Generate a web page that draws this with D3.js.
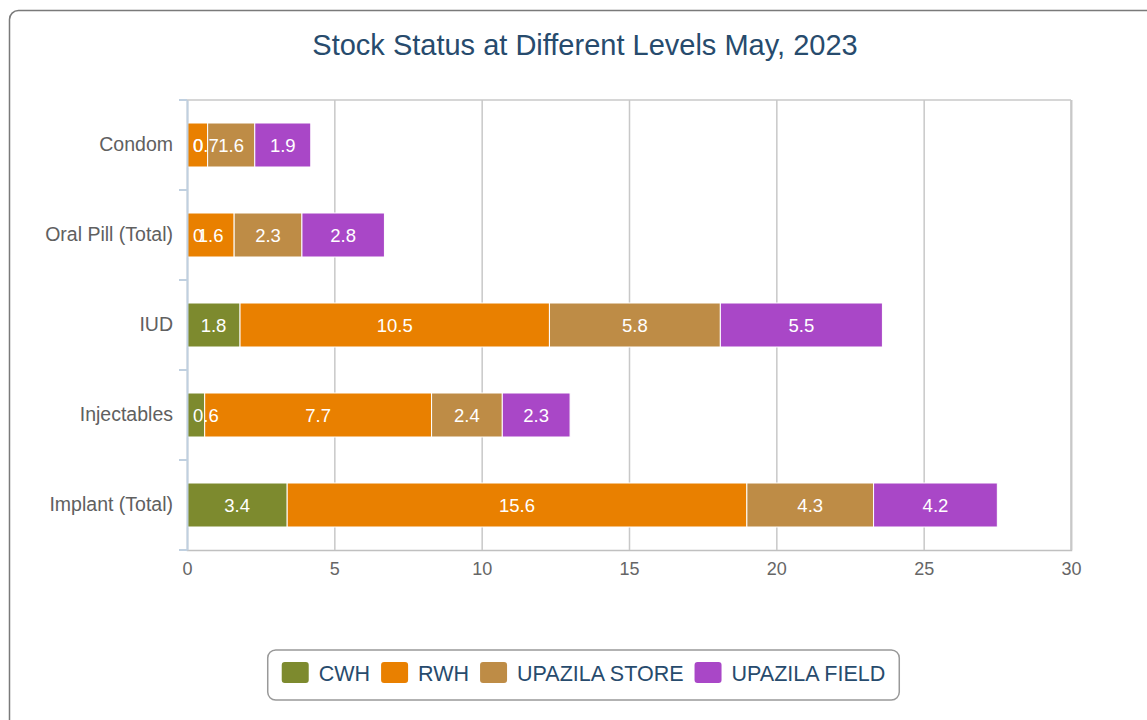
<!DOCTYPE html>
<html>
<head>
<meta charset="utf-8">
<script src="https://cdn.jsdelivr.net/npm/d3@7"></script>
<style>
  html, body { margin: 0; padding: 0; background: #fff; }
  svg { display: block; font-family: "Liberation Sans", Arial, sans-serif; }
</style>
</head>
<body>
<svg id="chart" width="1147" height="720"></svg>
<script>
const categories = ["Condom", "Oral Pill (Total)", "IUD", "Injectables", "Implant (Total)"];
const seriesNames = ["CWH", "RWH", "UPAZILA STORE", "UPAZILA FIELD"];
const seriesColors = ["#7d8a2e", "#e98000", "#be8c46", "#a947c7"];
const cwh = [0, 0, 1.8, 0.6, 3.4];
const rwh = [0.7, 1.6, 10.5, 7.7, 15.6];
const upazilaStore = [1.6, 2.3, 5.8, 2.4, 4.3];
const upazilaField = [1.9, 2.8, 5.5, 2.3, 4.2];
const xTicks = [0, 5, 10, 15, 20, 25, 30];
const titleText = "Stock Status at Different Levels May, 2023";

const seriesValues = [cwh, rwh, upazilaStore, upazilaField];

const svg = d3.select("#chart");
const plot = { left: 187, right: 1071, top: 100, bottom: 550 };

// outer container border
svg.append("rect")
  .attr("x", 9.5).attr("y", 10.5)
  .attr("width", 1300).attr("height", 900)
  .attr("rx", 9)
  .attr("fill", "#fff")
  .attr("stroke", "#7a7a7a").attr("stroke-width", 1.5);

// title
svg.append("text")
  .attr("x", 585).attr("y", 55)
  .attr("text-anchor", "middle")
  .attr("font-size", 29)
  .attr("fill", "#274b6d")
  .text(titleText);

const x = d3.scaleLinear().domain([0, 30]).range([plot.left, plot.right]);
const yOuter = d3.scaleBand().domain(categories).range([plot.top, plot.bottom]);

// grid lines + x axis
const gx = svg.append("g").attr("transform", `translate(0,${plot.bottom})`)
  .call(d3.axisBottom(x).tickValues(xTicks).tickSize(-(plot.bottom - plot.top)).tickFormat(d3.format("d")));
gx.select(".domain").attr("stroke", "#c0c0c0").attr("stroke-width", 1.5);
gx.selectAll(".tick line").attr("stroke", "#c8c8c8").attr("stroke-width", 1.5)
  .attr("opacity", d => d === 0 ? 0 : 1);
gx.selectAll(".tick text").attr("font-size", 18).attr("fill", "#666").attr("font-family", "Liberation Sans, Arial, sans-serif")
  .attr("y", 25).attr("dy", 0);

// top border of plot area
svg.append("line").attr("x1", plot.left).attr("x2", plot.right)
  .attr("y1", plot.top).attr("y2", plot.top).attr("stroke", "#c8c8c8").attr("stroke-width", 1.5);

// stacked bars
const stackData = categories.map((c, i) => {
  const o = { category: c };
  seriesNames.forEach((s, j) => o[s] = seriesValues[j][i]);
  return o;
});
const stacked = d3.stack().keys(seriesNames)(stackData);

const barH = 44;
const bars = svg.append("g");
stacked.forEach((layer, j) => {
  const g = bars.append("g").attr("fill", seriesColors[j]);
  g.selectAll("rect").data(layer).join("rect")
    .attr("x", d => x(d[0]))
    .attr("y", d => yOuter(d.data.category) + yOuter.bandwidth() / 2 - barH / 2)
    .attr("width", d => Math.max(0, x(d[1]) - x(d[0])))
    .attr("height", barH)
    .attr("stroke", "#fff").attr("stroke-width", 1)
    .attr("opacity", d => (d[1] - d[0]) > 0 ? 1 : 0);
});

// data labels (kept inside the plot area, as in the reference)
const labels = svg.append("g");
stacked.forEach((layer, j) => {
  layer.forEach((d, i) => {
    const t = labels.append("text")
      .attr("font-size", 18.5)
      .attr("fill", "#fff")
      .attr("y", yOuter(d.data.category) + yOuter.bandwidth() / 2 + 6.5)
      .text(d3.format(".1~f")(seriesValues[j][i]));
    const w = t.node().getComputedTextLength();
    const cx = (x(d[0]) + x(d[1])) / 2;
    t.attr("x", Math.max(cx - w / 2, plot.left + 6));
  });
});

// y axis
const gy = svg.append("g").attr("transform", `translate(${plot.left},0)`)
  .call(d3.axisLeft(yOuter).tickSize(0).tickPadding(14));
gy.select(".domain").attr("stroke", "#c0d0e0").attr("stroke-width", 2);
gy.selectAll(".tick text").attr("font-size", 19.5).attr("fill", "#606060")
  .attr("font-family", "Liberation Sans, Arial, sans-serif");
const bounds = categories.map(c => yOuter(c)).concat([plot.bottom]);
gy.selectAll(".bt").data(bounds).join("line")
  .attr("x1", -8).attr("x2", 0)
  .attr("y1", d => d).attr("y2", d => d)
  .attr("stroke", "#c0d0e0").attr("stroke-width", 2);

// right border
svg.append("line").attr("x1", plot.right).attr("x2", plot.right)
  .attr("y1", plot.top).attr("y2", plot.bottom).attr("stroke", "#c8c8c8").attr("stroke-width", 1.5);

// legend
const legend = svg.append("g");
const sqW = 27, sqH = 21, gapText = 10, gapItem = 11, padX = 14;
let cursor = 0;
seriesNames.forEach((s, j) => {
  const g = legend.append("g");
  g.append("rect").attr("x", cursor).attr("y", 662).attr("width", sqW).attr("height", sqH)
    .attr("rx", 3).attr("fill", seriesColors[j]);
  const t = g.append("text").attr("x", cursor + sqW + gapText).attr("y", 681)
    .attr("font-size", 21.5).attr("fill", "#274b6d").text(s);
  const w = t.node().getComputedTextLength();
  cursor += sqW + gapText + w + gapItem;
});
const totalW = cursor - gapItem;
const boxW = totalW + padX * 2;
const boxX = 583.5 - boxW / 2;
legend.insert("rect", ":first-child")
  .attr("x", boxX).attr("y", 650).attr("width", boxW).attr("height", 50)
  .attr("rx", 8).attr("fill", "#fff").attr("stroke", "#999").attr("stroke-width", 1.5);
legend.selectAll("g").attr("transform", `translate(${boxX + padX},0)`);
</script>
</body>
</html>
